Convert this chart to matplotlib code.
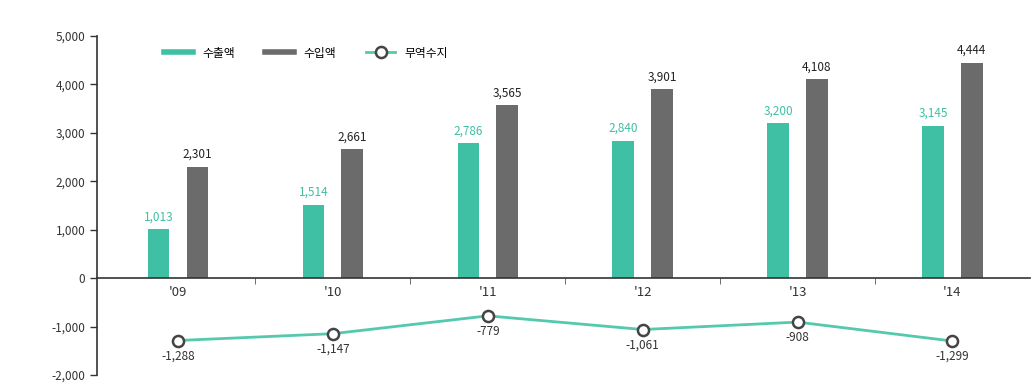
import matplotlib
matplotlib.use("Agg")
import matplotlib.pyplot as plt
import numpy as np
from matplotlib.lines import Line2D

plt.rcParams['font.family'] = ['Noto Sans CJK KR', 'DejaVu Sans']

years = ["'09", "'10", "'11", "'12", "'13", "'14"]
exports = [1013, 1514, 2786, 2840, 3200, 3145]
imports = [2301, 2661, 3565, 3901, 4108, 4444]
balance = [-1288, -1147, -779, -1061, -908, -1299]
yticks = [-2000, -1000, 0, 1000, 2000, 3000, 4000, 5000]
legend_labels = ["수출액", "수입액", "무역수지"]

teal = "#3fbfa3"
grey = "#6b6b6b"
line_teal = "#55c9ad"

fig = plt.figure(figsize=(10.32, 3.86), dpi=100)
ax = fig.add_axes([0.094, 0.0285, 0.904, 0.8785])

x = np.arange(len(years))
w = 0.14
off = 0.125
ax.bar(x - off, exports, width=w, color=teal, zorder=2)
ax.bar(x + off, imports, width=w, color=grey, zorder=2)
ax.plot(x, balance, color=line_teal, lw=2, marker='o', ms=8,
        mfc='white', mec='#444444', mew=1.8, zorder=3)

for xi, v in zip(x, exports):
    ax.text(xi - off, v + 120, f"{v:,}", ha='center', va='bottom', fontsize=8.5,
            color=teal, fontweight='medium')
for xi, v in zip(x, imports):
    ax.text(xi + off, v + 120, f"{v:,}", ha='center', va='bottom', fontsize=8.5,
            color='#222222', fontweight='medium')
for xi, v in zip(x, balance):
    ax.text(xi, v - 180, f"{v:,}", ha='center', va='top', fontsize=8.5, color='#333333')

ax.set_xlim(-0.523, 5.5)
ax.set_ylim(-2000, 5000)
ax.set_yticks(yticks)
ax.set_yticklabels([f"{t:,}" for t in yticks], fontsize=8.5, color='#333333')
ax.tick_params(axis='y', direction='out', length=5, width=1, color='#333333')

ax.spines['top'].set_visible(False)
ax.spines['right'].set_visible(False)
ax.spines['bottom'].set_position(('data', 0))
ax.spines['left'].set_color('#333333')
ax.spines['bottom'].set_color('#333333')
ax.spines['left'].set_linewidth(1.2)
ax.spines['bottom'].set_linewidth(1.2)

ax.set_xticks(x)
ax.set_xticklabels(years, fontsize=9.5, color='#333333')
ax.tick_params(axis='x', length=0, pad=6)
ax.set_xticks(x[:-1] + 0.5, minor=True)
ax.tick_params(axis='x', which='minor', direction='out', length=4, color='#555555')

handles = [Line2D([0], [0], color=teal, lw=4),
           Line2D([0], [0], color=grey, lw=4),
           Line2D([0], [0], color=line_teal, lw=2, marker='o', ms=8,
                  mfc='white', mec='#444444', mew=1.8)]
ax.legend(handles, legend_labels, loc='upper left', bbox_to_anchor=(0.06, 1.0),
          ncol=3, frameon=False, fontsize=8.5, handlelength=2.5, columnspacing=2.5)

fig.savefig("out.png", dpi=100)
